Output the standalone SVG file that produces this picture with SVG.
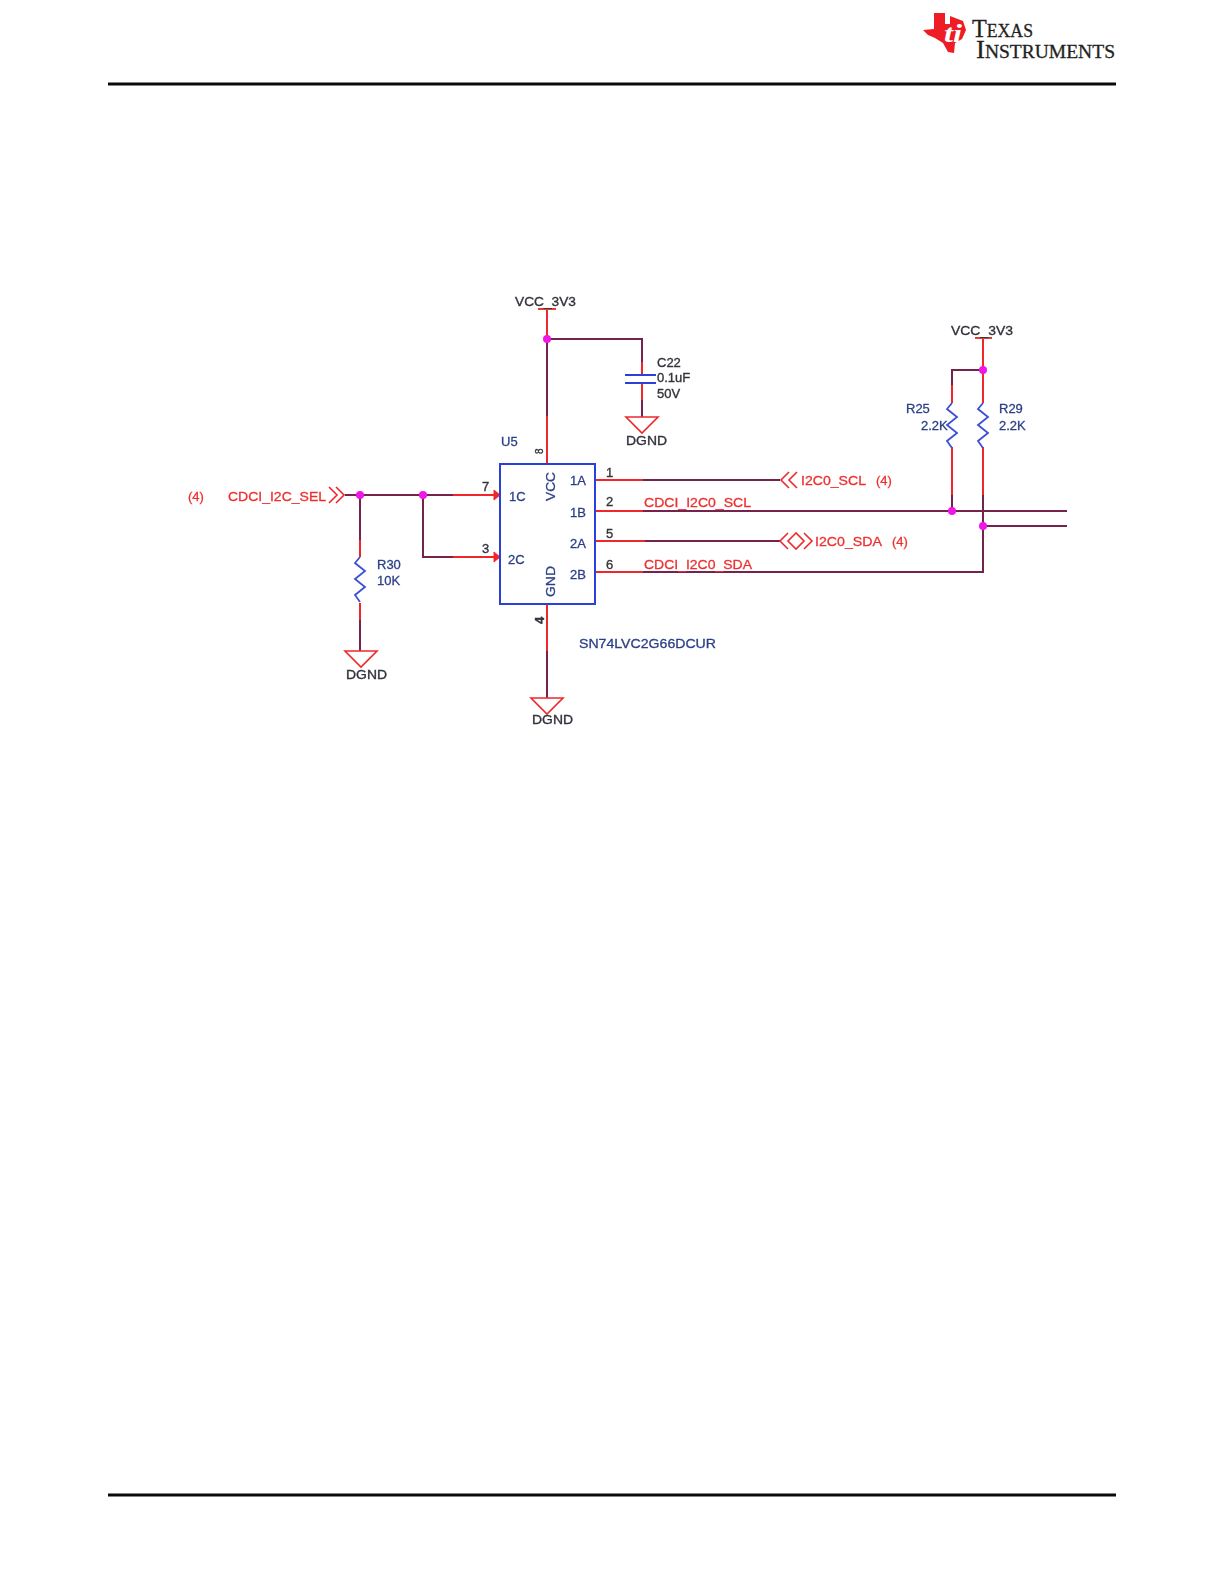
<svg xmlns="http://www.w3.org/2000/svg" width="1224" height="1584" viewBox="0 0 1224 1584">
<style>
text{font-family:"Liberation Sans",Arial,sans-serif;font-size:13px}
.r{fill:#ee3030;stroke:#ee3030;stroke-width:.3}.b{fill:#2c3f88;stroke:#2c3f88;stroke-width:.3}.k{fill:#33333c;stroke:#33333c;stroke-width:.35}
.w{fill:none;stroke:#74204e;stroke-width:2}
.p{fill:none;stroke:#f0282c;stroke-width:2}
.s{fill:none;stroke:#f0282c;stroke-width:1.6}
.z{fill:none;stroke:#3c50d0;stroke-width:1.8}
.j{fill:#f015e8}
.logo{font-family:"Liberation Serif","Times New Roman",serif;fill:#231f20;stroke:#231f20;stroke-width:.3;font-size:26px}
.logo tspan{font-size:19px}
</style>
<defs>
<filter id="soft" x="-5%" y="-5%" width="110%" height="110%"><feGaussianBlur stdDeviation="0.45"/></filter>
<path id="gnd" class="s" d="M-16 0H16L0 16Z"/>
<path id="res" class="z" d="M0 0L-5 6L5 14L-5 22L5 30L-5 38L0 45"/>
</defs>
<rect width="1224" height="1584" fill="#fff"/>
<g id="page-frame">
<rect x="108" y="82.500" width="1008" height="3" fill="#0a0a0a"/>
<rect x="108" y="1493.500" width="1008" height="3" fill="#0a0a0a"/>
</g>
<g id="ti-logo">
<path d="M923 30L934 29V13H945V24H950V16L963 21L966 30L962 39L955 43L954 53L948 52L943 43L935 38L928 35Z" fill="#ee1c25"/>
<text x="944" y="42" style="font-family:'Liberation Serif',serif;font-style:italic;font-weight:bold;font-size:25px" fill="#fff" textLength="18" lengthAdjust="spacingAndGlyphs">ti</text>
<text class="logo" x="972" y="37" textLength="61" lengthAdjust="spacingAndGlyphs">T<tspan>EXAS</tspan></text>
<text class="logo" x="976" y="58" textLength="139" lengthAdjust="spacingAndGlyphs">I<tspan>NSTRUMENTS</tspan></text>
</g>
<g filter="url(#soft)">
<g id="connectors">
<path class="p" d="M547 309V339"/>
<path class="w" d="M547 339V416"/>
<path class="p" d="M547 416V464"/>
<path class="w" d="M547 339H642V362"/>
<path class="p" d="M642 362V375"/>
<path class="p" d="M642 383V400"/>
<path class="w" d="M642 400V417"/>
<path class="w" d="M345 495H453"/>
<path class="p" d="M453 495H494"/>
<path class="w" d="M423 495V557H453"/>
<path class="p" d="M453 557H494"/>
<path class="w" d="M360 495V540"/>
<path class="p" d="M360 540V557"/>
<path class="p" d="M360 603V620"/>
<path class="w" d="M360 620V651"/>
<path class="p" d="M547 604V651"/>
<path class="w" d="M547 651V698"/>
<path class="p" d="M595 480H643"/>
<path class="w" d="M643 480H780"/>
<path class="p" d="M595 511H643"/>
<path class="w" d="M643 511H1067"/>
<path class="p" d="M595 541H645"/>
<path class="w" d="M645 541H780"/>
<path class="p" d="M595 572H643"/>
<path class="w" d="M643 572H983V526"/>
<path class="w" d="M983 526V511"/>
<path class="w" d="M983 526H1067"/>
<path class="p" d="M983 338V370"/>
<path class="w" d="M983 370H952V385"/>
<path class="p" d="M952 385V403"/>
<path class="p" d="M983 370V403"/>
<path class="p" d="M952 447V500"/>
<path class="w" d="M952 495V511"/>
<path class="p" d="M983 447V495"/>
<path class="w" d="M983 495V511"/>
<path d="M494 490L500 495L494 500ZM494 552L500 557L494 562Z" fill="#f0282c" stroke="#f0282c"/>
<g class="j">
<circle cx="547" cy="339" r="4"/><circle cx="360" cy="495" r="4"/><circle cx="423" cy="495" r="4"/>
<circle cx="983" cy="370" r="4"/><circle cx="952" cy="511" r="4"/><circle cx="983" cy="526" r="4"/>
</g>
</g>
<g id="U5">
<rect x="500" y="464" width="95" height="140" fill="none" stroke="#2a3fd8" stroke-width="2"/>
<text class="b" x="501" y="446">U5</text>
<text class="k" transform="translate(543 454) rotate(-90)" style="font-size:10px">8</text>
<text class="k" transform="translate(544 624) rotate(-90)" style="font-weight:bold">4</text>
<text class="k" x="482" y="491">7</text><text class="k" x="482" y="553">3</text>
<text class="k" x="606" y="477">1</text><text class="k" x="606" y="506">2</text>
<text class="k" x="606" y="538">5</text><text class="k" x="606" y="569">6</text>
<text class="b" x="509" y="501">1C</text><text class="b" x="508" y="564">2C</text>
<text class="b" x="570" y="485">1A</text><text class="b" x="570" y="517">1B</text>
<text class="b" x="570" y="548">2A</text><text class="b" x="570" y="579">2B</text>
<text class="b" transform="translate(555 501) rotate(-90)" textLength="29" lengthAdjust="spacingAndGlyphs">VCC</text>
<text class="b" transform="translate(555 597) rotate(-90)" textLength="31" lengthAdjust="spacingAndGlyphs">GND</text>
<text class="b" x="579" y="648" textLength="137" lengthAdjust="spacingAndGlyphs">SN74LVC2G66DCUR</text>
</g>
<g id="C22">
<path d="M625 375H656M625 383H656" fill="none" stroke="#2a3fd8" stroke-width="2"/>
<text class="k" x="657" y="367">C22</text><text class="k" x="657" y="382">0.1uF</text><text class="k" x="657" y="398">50V</text>
</g>
<g id="R30"><use href="#res" x="360" y="557"/><text class="b" x="377" y="569">R30</text><text class="b" x="377" y="585">10K</text></g>
<g id="R25"><use href="#res" x="952" y="403"/><text class="b" x="906" y="413">R25</text><text class="b" x="921" y="430">2.2K</text></g>
<g id="R29"><use href="#res" x="983" y="403"/><text class="b" x="999" y="413">R29</text><text class="b" x="999" y="430">2.2K</text></g>
<g id="VCC1"><path d="M538 309H556" stroke="#e04030" stroke-width="2"/><text class="k" x="515" y="306" textLength="61" lengthAdjust="spacingAndGlyphs">VCC_3V3</text></g>
<g id="VCC2"><path d="M975 338H992" stroke="#e04030" stroke-width="2"/><text class="k" x="951" y="335" textLength="62" lengthAdjust="spacingAndGlyphs">VCC_3V3</text></g>
<g id="DGND1"><use href="#gnd" x="642" y="417"/><text class="k" x="626" y="445" textLength="41" lengthAdjust="spacingAndGlyphs">DGND</text></g>
<g id="DGND2"><use href="#gnd" x="361" y="651"/><text class="k" x="346" y="679" textLength="41" lengthAdjust="spacingAndGlyphs">DGND</text></g>
<g id="DGND3"><use href="#gnd" x="547" y="698"/><text class="k" x="532" y="724" textLength="41" lengthAdjust="spacingAndGlyphs">DGND</text></g>
<g id="CDCI_I2C_SEL">
<path class="s" d="M329 487L337 495L329 503M336 487L344 495L336 503"/>
<text class="r" x="188" y="501">(4)</text><text class="r" x="228" y="501" textLength="98" lengthAdjust="spacingAndGlyphs">CDCI_I2C_SEL</text>
</g>
<g id="I2C0_SCL">
<path class="s" d="M789 472L781 480L789 488M797 472L789 480L797 488"/>
<text class="r" x="801" y="485" textLength="65" lengthAdjust="spacingAndGlyphs">I2C0_SCL</text><text class="r" x="876" y="485">(4)</text>
</g>
<g id="I2C0_SDA">
<path class="s" d="M788 533L780 541L788 549M796 533L788 541L796 549L804 541ZM804 533L812 541L804 549"/>
<text class="r" x="815" y="546" textLength="67" lengthAdjust="spacingAndGlyphs">I2C0_SDA</text><text class="r" x="892" y="546">(4)</text>
</g>
<g id="net-labels">
<text class="r" x="644" y="507" textLength="107" lengthAdjust="spacingAndGlyphs">CDCI_I2C0_SCL</text>
<text class="r" x="644" y="569" textLength="108" lengthAdjust="spacingAndGlyphs">CDCI_I2C0_SDA</text>
</g>
</g>
</svg>
